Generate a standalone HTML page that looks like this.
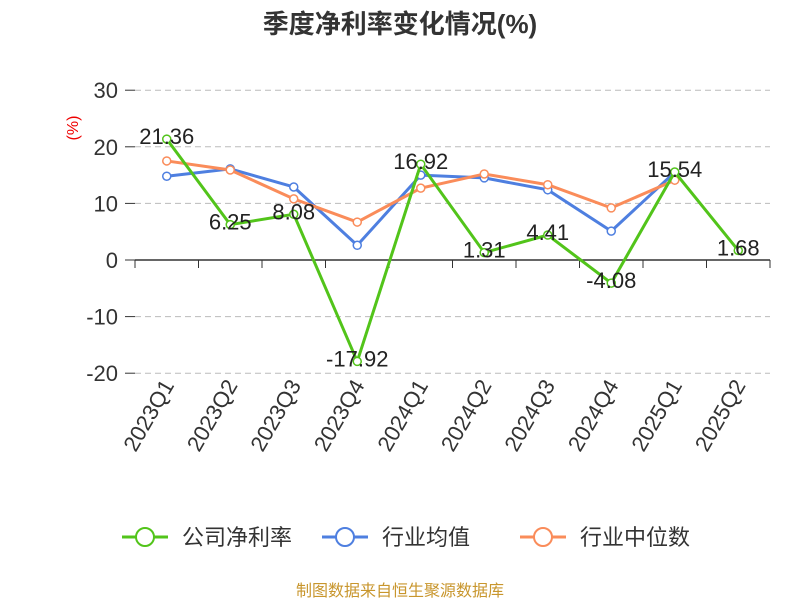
<!DOCTYPE html>
<html><head><meta charset="utf-8"><style>
body{margin:0;background:#fff;}
svg{display:block;font-family:"Liberation Sans","Noto Sans CJK SC",sans-serif;}
</style></head><body>
<svg id="c" width="800" height="600">
<text x="400" y="33" text-anchor="middle" font-size="26" font-weight="bold" fill="#333">季度净利率变化情况(%)</text>
<text transform="translate(78,128) rotate(-90)" text-anchor="middle" font-size="16" fill="#e00">(%)</text>
<g id="grid"></g><g id="series"></g><g id="labels"></g>
<g>
<g><line x1="122" y1="537" x2="168" y2="537" stroke="#52c41a" stroke-width="3"/><circle cx="145" cy="537" r="9" fill="#fff" stroke="#52c41a" stroke-width="2"/><text x="182" y="545" font-size="22" fill="#333">公司净利率</text></g>
<g><line x1="322" y1="537" x2="368" y2="537" stroke="#4e7fe0" stroke-width="3"/><circle cx="345" cy="537" r="9" fill="#fff" stroke="#4e7fe0" stroke-width="2"/><text x="382" y="545" font-size="22" fill="#333">行业均值</text></g>
<g><line x1="520" y1="537" x2="566" y2="537" stroke="#fa8c5a" stroke-width="3"/><circle cx="543" cy="537" r="9" fill="#fff" stroke="#fa8c5a" stroke-width="2"/><text x="580" y="545" font-size="22" fill="#333">行业中位数</text></g>
</g>
<text x="400" y="596" text-anchor="middle" font-size="16" fill="#c8962d">制图数据来自恒生聚源数据库</text>
</svg>
<script>
const categories=["2023Q1","2023Q2","2023Q3","2023Q4","2024Q1","2024Q2","2024Q3","2024Q4","2025Q1","2025Q2"];
const companyValues=[21.36,6.25,8.08,-17.92,16.92,1.31,4.41,-4.08,15.54,1.68];
const industryAvg=[14.8,16.1,12.9,2.6,15.0,14.5,12.4,5.1,15.5];
const industryMedian=[17.5,15.9,10.8,6.7,12.7,15.2,13.3,9.2,14.1];
const yTicks=[30,20,10,0,-10,-20];
const NS="http://www.w3.org/2000/svg";
const L=135,R=770,band=(R-L)/categories.length;
const x=i=>L+band*(i+0.5);
const y=v=>260-v*5.66;
function mk(t,a,p){const e=document.createElementNS(NS,t);for(const k in a)e.setAttribute(k,a[k]);p.appendChild(e);return e;}
const grid=document.getElementById('grid');
yTicks.forEach(v=>{
 if(v!==0){const g=mk('line',{x1:L,x2:R,y1:y(v),y2:y(v),stroke:'#bbb','stroke-dasharray':'6,4'},grid);
 
 }
 const tk=mk('line',{x1:125,x2:L,y1:y(v),y2:y(v),stroke:'#333'},grid);
 
 
 const t=mk('text',{x:118,y:y(v)+8,'text-anchor':'end','font-size':22,fill:'#333'},grid);t.textContent=v;
 
 
});
const ax=mk('line',{x1:L,x2:R,y1:y(0),y2:y(0),stroke:'#333','stroke-width':1.5},grid);


for(let i=0;i<=categories.length;i++){const t=mk('line',{x1:L+band*i,x2:L+band*i,y1:y(0),y2:y(0)+8,stroke:'#333'},grid);
 
 }
categories.forEach((c,i)=>{const t=mk('text',{transform:`translate(${x(i)+8},${y(-20)+12}) rotate(-60)`,'text-anchor':'end','font-size':22,fill:'#333'},grid);t.textContent=c;
 
 });
const S=document.getElementById('series');
function series(vals,color,name){
 const g=mk('g',{},S);
 
 
 mk('polyline',{points:vals.map((v,i)=>x(i)+','+y(v)).join(' '),fill:'none',stroke:color,'stroke-width':3},g);
 vals.forEach((v,i)=>{const c=mk('circle',{cx:x(i),cy:y(v),r:4,fill:'#fff',stroke:color,'stroke-width':1.5},g);
 
 });
}
series(industryAvg,'#4e7fe0','industry-avg-line');
series(industryMedian,'#fa8c5a','industry-median-line');
series(companyValues,'#52c41a','company-line');
const LB=document.getElementById('labels');
companyValues.forEach((v,i)=>{const t=mk('text',{x:x(i),y:y(v)+5,'text-anchor':'middle','font-size':22,fill:'#222'},LB);t.textContent=v.toFixed(2);
 
 });
</script>
</body></html>
